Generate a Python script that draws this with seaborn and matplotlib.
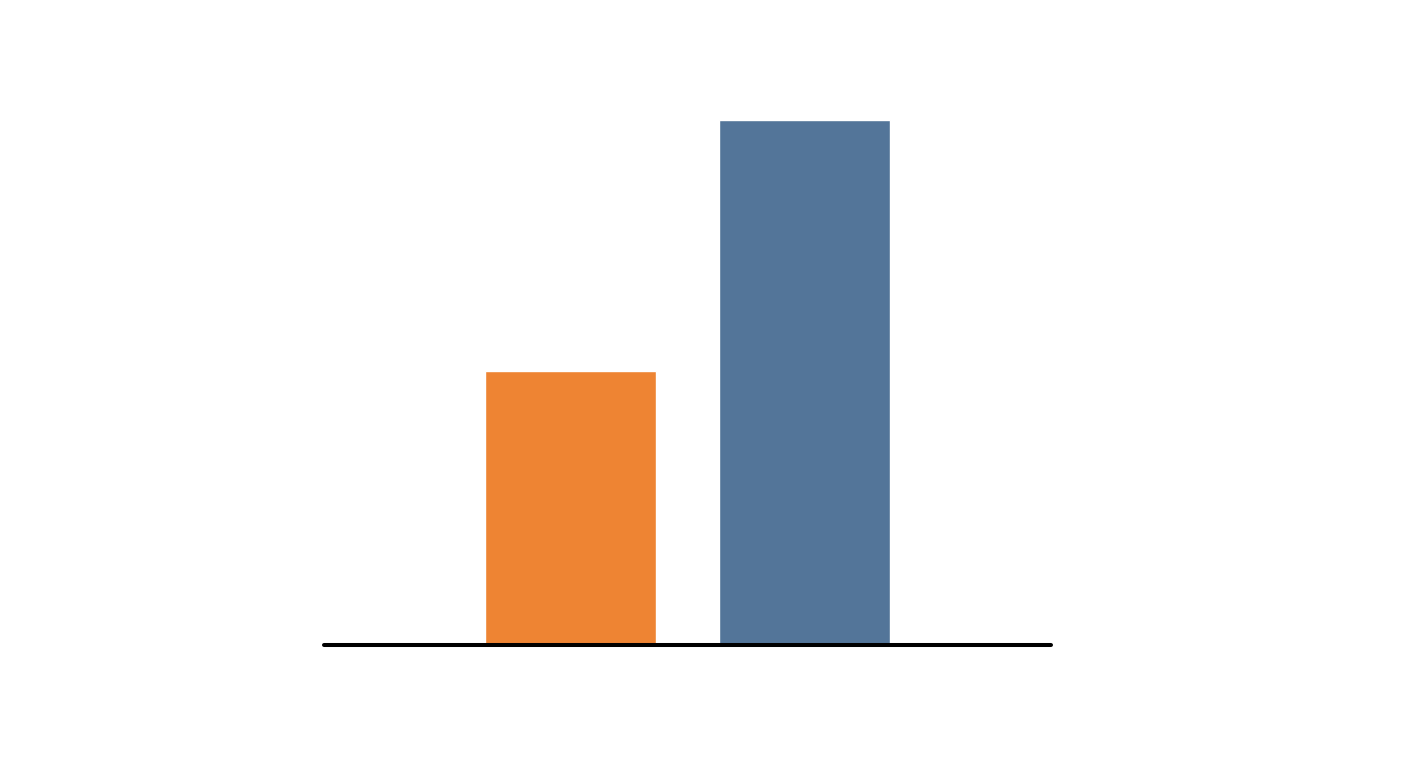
import matplotlib
matplotlib.use('Agg')
import matplotlib.pyplot as plt
import seaborn as sns
import pandas as pd

# Data (no labels shown, relative heights only)
categories = ['A', 'B']
values = [52.2, 100]
bar_colors = ['#EE8433', '#537599']

df = pd.DataFrame({'category': categories, 'value': values})

sns.set_style('white')
fig = plt.figure(figsize=(14.08, 7.68), dpi=100)
ax = fig.add_axes([0.2301, 0.1602, 0.5163, 0.6836])

sns.barplot(data=df, x='category', y='value', hue='category',
            palette=bar_colors, width=0.73, saturation=1, legend=False, ax=ax)

ax.set_xlim(-1.05, 2.05)
ax.set_ylim(0, 100)

# Only a thick black baseline remains
for side in ['top', 'right', 'left']:
    ax.spines[side].set_visible(False)
ax.spines['bottom'].set_color('black')
ax.spines['bottom'].set_linewidth(2.9)
ax.spines['bottom'].set_capstyle('round')
ax.spines['bottom'].set_zorder(5)

ax.set_xticks([])
ax.set_yticks([])
ax.set_xlabel('')
ax.set_ylabel('')

fig.savefig('out.png', dpi=100, facecolor='white')
